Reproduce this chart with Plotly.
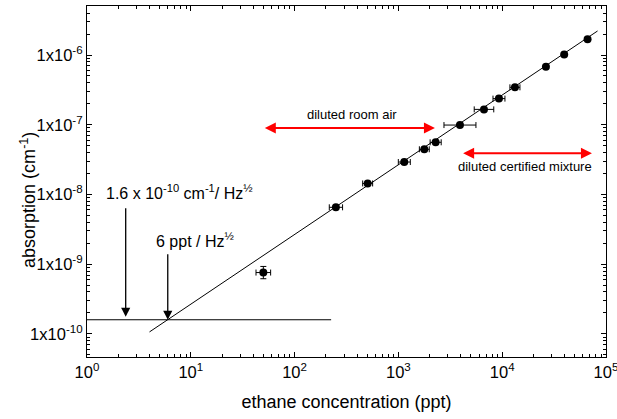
import numpy as np
import plotly.graph_objects as go

# Measured ethane samples (concentration in ppt, absorption in cm^-1)
conc = [50, 250, 506, 1140, 1778, 2286, 3920, 6680, 9310, 13280, 26400, 39600, 66500]
absorption = [7.6e-10, 6.55e-9, 1.44e-8, 2.92e-8, 4.45e-8, 5.6e-8, 9.9e-8,
              1.66e-7, 2.37e-7, 3.44e-7, 6.8e-7, 1.02e-6, 1.68e-6]
conc_err_plus = [8.8, 40, 59, 163, 206, 300, 1670, 1620, 1330, 1560, 0, 0, 0]
conc_err_minus = [7.5, 34, 53, 141, 185, 263, 1170, 1300, 1150, 1400, 0, 0, 0]
abs_err_plus = [1.7e-10, 0, 0, 0, 0, 0, 0, 0, 0, 0, 0, 0, 0]
abs_err_minus = [1.4e-10, 0, 0, 0, 0, 0, 0, 0, 0, 0, 0, 0, 0]

# Linear calibration line and noise-equivalent absorption level
fit_conc = [4.0, 83000]
fit_abs = [1.07e-10, 2.21e-6]
noise_level = 1.6e-10
lod_conc = 6
noise_conc = [1, 225]
noise_abs = [noise_level, noise_level]

# Sample-range markers (conc span, absorption height)
room_air_span = [50, 2250]
room_air_y = 9.0e-8
certified_span = [4070, 73300]
certified_y = 3.9e-8

x_ticks = [1, 10, 100, 1000, 10000, 100000]
x_ticktext = ["10<sup>0</sup>", "10<sup>1</sup>", "10<sup>2</sup>", "10<sup>3</sup>",
              "10<sup>4</sup>", "10<sup>5</sup>"]
y_ticks = [1e-10, 1e-9, 1e-8, 1e-7, 1e-6]
y_ticktext = ["1x10<sup>-10</sup>", "1x10<sup>-9</sup>", "1x10<sup>-8</sup>",
              "1x10<sup>-7</sup>", "1x10<sup>-6</sup>"]

FONT = "Arial, Liberation Sans, sans-serif"

x_minor = [m * 10 ** d for d in range(0, 5) for m in range(2, 10)]
y_minor = [m * 10.0 ** d for d in range(-11, -5) for m in range(2, 10)]

fig = go.Figure()

fig.add_trace(go.Scatter(
    x=fit_conc, y=fit_abs, mode="lines",
    line=dict(color="black", width=1), showlegend=False, hoverinfo="skip"))

fig.add_trace(go.Scatter(
    x=noise_conc, y=noise_abs, mode="lines",
    line=dict(color="black", width=1), showlegend=False, hoverinfo="skip"))

fig.add_trace(go.Scatter(
    x=conc, y=absorption, mode="markers",
    marker=dict(color="black", size=8),
    error_x=dict(type="data", symmetric=False, array=conc_err_plus,
                 arrayminus=conc_err_minus, color="black", thickness=1, width=3),
    error_y=dict(type="data", symmetric=False, array=abs_err_plus,
                 arrayminus=abs_err_minus, color="black", thickness=1, width=3),
    showlegend=False))

lg = np.log10
annotations = [
    # red double arrows for sample ranges
    dict(x=lg(room_air_span[1]), y=lg(room_air_y), ax=lg(room_air_span[0]), ay=lg(room_air_y),
         xref="x", yref="y", axref="x", ayref="y", text="", showarrow=True,
         arrowside="end+start", arrowhead=2, arrowsize=1.1, arrowwidth=2, arrowcolor="#ff0000"),
    dict(x=lg(certified_span[1]), y=lg(certified_y), ax=lg(certified_span[0]), ay=lg(certified_y),
         xref="x", yref="y", axref="x", ayref="y", text="", showarrow=True,
         arrowside="end+start", arrowhead=2, arrowsize=1.1, arrowwidth=2, arrowcolor="#ff0000"),
    dict(x=2.55, y=-6.86, xref="x", yref="y", text="diluted room air", showarrow=False,
         font=dict(size=13, color="black", family=FONT)),
    dict(x=4.22, y=-7.60, xref="x", yref="y", text="diluted certified mixture", showarrow=False,
         font=dict(size=13, color="black", family=FONT)),
    # black arrows to the noise floor and detection limit
    dict(x=lg(2.36), y=lg(noise_level), xref="x", yref="y", ax=0, ay=-113, text="",
         showarrow=True, arrowhead=2, arrowsize=1.4, arrowwidth=1.3, arrowcolor="black", standoff=3),
    dict(x=lg(lod_conc), y=lg(noise_level), xref="x", yref="y", ax=0, ay=-67, text="",
         showarrow=True, arrowhead=2, arrowsize=1.4, arrowwidth=1.3, arrowcolor="black", standoff=0),
    dict(x=0.891, y=-7.96, xref="x", yref="y",
         text="1.6 x 10<sup>-10</sup> cm<sup>-1</sup>/ Hz<sup>½</sup>", showarrow=False,
         font=dict(size=16, color="black", family=FONT)),
    dict(x=1.04, y=-8.652, xref="x", yref="y", text="6 ppt / Hz<sup>½</sup>", showarrow=False,
         font=dict(size=16, color="black", family=FONT)),
    # y-axis title
    dict(x=-0.114, y=0.447, xref="paper", yref="paper", text="absorption (cm<sup>-1</sup>)",
         textangle=-90, showarrow=False, xanchor="center", yanchor="middle",
         font=dict(size=18, color="black", family=FONT)),
]

axis_common = dict(
    type="log", showgrid=False, zeroline=False, showline=True, linecolor="black",
    linewidth=1.2, mirror="allticks", ticks="inside", ticklen=5, tickwidth=1,
    tickcolor="black", tickfont=dict(size=16.5, color="black", family=FONT),
    tickmode="array", ticklabeloverflow="allow", automargin=False,
)

fig.update_layout(
    width=617, height=419,
    margin=dict(l=87, r=11, t=6, b=62),
    paper_bgcolor="white", plot_bgcolor="white",
    font=dict(family=FONT, color="black"),
    annotations=annotations,
    xaxis=dict(**axis_common, range=[0, 5.0005], tickvals=x_ticks, ticktext=x_ticktext,
               minor=dict(tickmode="array", tickvals=x_minor, ticks="inside", ticklen=3,
                          tickcolor="black", showgrid=False),
               title=dict(text="ethane concentration (ppt)",
                          font=dict(size=18, color="black", family=FONT), standoff=15)),
    yaxis=dict(**axis_common, range=[-10.33, -5.2975], tickvals=y_ticks, ticktext=y_ticktext,
               minor=dict(tickmode="array", tickvals=y_minor, ticks="inside", ticklen=3,
                          tickcolor="black", showgrid=False)),
)

fig.write_html("out.html")
